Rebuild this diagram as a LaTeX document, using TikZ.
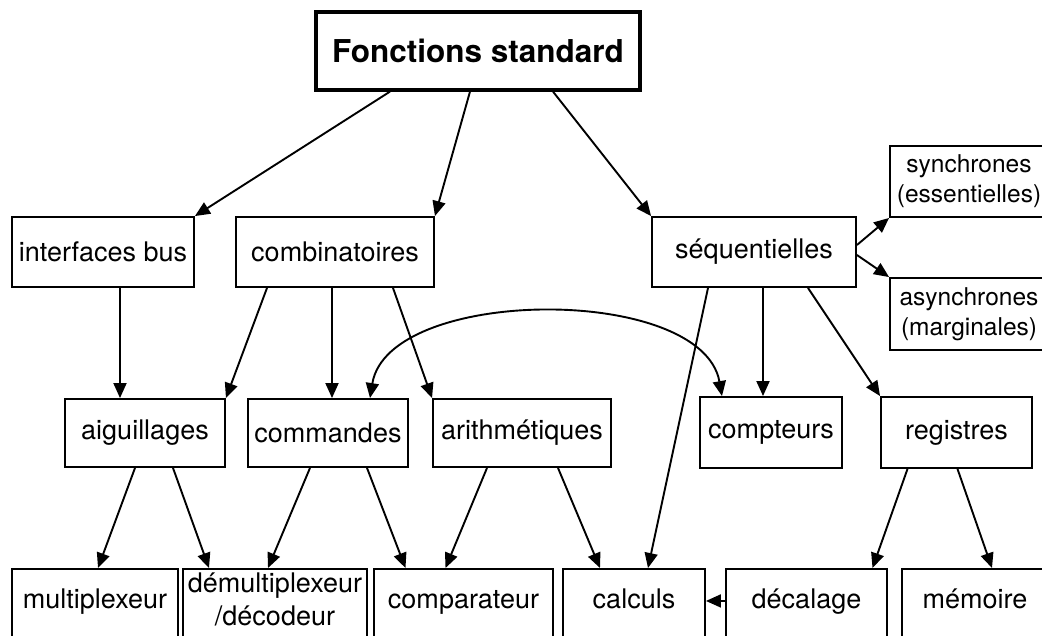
\documentclass[tikz,border=0pt]{standalone}
\usepackage{fontspec}
\setmainfont{TeX Gyre Heros}
\usetikzlibrary{arrows.meta}

\begin{document}
\begin{tikzpicture}[x=1pt,y=-1pt,
  box/.style={draw, line width=1.9pt, inner sep=0pt, font=\fontsize{27}{31}\selectfont},
  low/.style={box, anchor=north, text height=20pt, text depth=50pt, inner ysep=20pt},
  tip/.tip={Triangle[length=15pt,width=13pt]},
  arr/.style={line width=1.9pt, -tip}]
\useasboundingbox (0,0) rectangle (1042,635);
\clip (0,0) rectangle (1042,635);

\node[box, line width=3.2pt, font=\bfseries\fontsize{31.5}{36}\selectfont,
  minimum width=324pt, minimum height=78pt] (fs) at (478,51) {Fonctions standard};

\node[box, minimum width=182pt, minimum height=70pt] (ifb) at (103,252) {interfaces bus};
\node[box, minimum width=198pt, minimum height=70pt] (comb) at (335,252) {combinatoires};
\node[box, minimum width=204pt, minimum height=70pt] (seq) at (754,252) {séquentielles};
\node[box, font=\fontsize{24.5}{30}\selectfont, align=center,
  minimum width=158pt, minimum height=71pt] (sync) at (969,181.5) {synchrones\\(essentielles)};
\node[box, font=\fontsize{24.5}{30}\selectfont, align=center,
  minimum width=158pt, minimum height=72pt] (async) at (969,314) {asynchrones\\(marginales)};

\node[box, minimum width=160pt, minimum height=68pt] (aig) at (145,433) {aiguillages};
\node[box, minimum width=160pt, minimum height=68pt] (cmd) at (328,433) {commandes};
\node[box, minimum width=178pt, minimum height=68pt] (arith) at (522,433) {arithmétiques};
\node[box, minimum width=142pt, minimum height=71pt] (cpt) at (771,432.5) {compteurs};
\node[box, minimum width=151pt, minimum height=71pt] (reg) at (956.5,432.5) {registres};

\node[low, minimum width=166pt] (mux) at (95,568) {multiplexeur};
\node[low, minimum width=184pt, font=\fontsize{27}{33}\selectfont,
  text height=37pt, text depth=33pt] (demux) at (275,568)
  {\begin{tabular}[b]{@{}c@{}}démultiplexeur\\/décodeur\end{tabular}};
\node[low, minimum width=179pt] (comp) at (463.5,568) {comparateur};
\node[low, minimum width=142pt] (calc) at (634,568) {calculs};
\node[low, minimum width=161pt] (dec) at (806.5,568) {décalage};
\node[low, minimum width=146pt] (mem) at (975,568) {mémoire};

\draw[arr] ([xshift=-88pt]fs.south) -- (ifb.north east);
\draw[arr] ([xshift=-8pt]fs.south) -- (comb.north east);
\draw[arr] ([xshift=75pt]fs.south) -- (seq.north west);

\draw[arr] ([yshift=7pt]seq.east) -- (sync.south west);
\draw[arr] ([yshift=-3pt]seq.east) -- (async.north west);

\draw[arr] ([xshift=17pt]ifb.south) -- ([xshift=17pt]ifb.south |- aig.north);
\draw[arr] ([xshift=-68pt]comb.south) -- (aig.north east);
\draw[arr] ([xshift=-3pt]comb.south) -- ([xshift=-3pt]comb.south |- cmd.north);
\draw[arr] ([xshift=58pt]comb.south) -- (arith.north west);

\draw[arr] ([xshift=-46pt]seq.south) -- ([xshift=14pt]calc.north);
\draw[arr] ([xshift=9pt]seq.south) -- ([xshift=9pt]seq.south |- cpt.north);
\draw[arr] ([xshift=54pt]seq.south) -- (reg.north west);

\draw[arr, tip-tip] ([xshift=42pt]cmd.north) .. controls +(18,-112) and +(-20,-112) .. ([xshift=-49pt]cpt.north);

\draw[arr] ([xshift=-10pt]aig.south) -- ([xshift=3pt]mux.north);
\draw[arr] ([xshift=28pt]aig.south) -- ([xshift=-66pt]demux.north);
\draw[arr] ([xshift=-18pt]cmd.south) -- ([xshift=-7pt]demux.north);
\draw[arr] ([xshift=39pt]cmd.south) -- ([xshift=-58pt]comp.north);
\draw[arr] ([xshift=-35pt]arith.south) -- ([xshift=-18pt]comp.north);
\draw[arr] ([xshift=36pt]arith.south) -- ([xshift=-34pt]calc.north);
\draw[arr] ([xshift=-49pt]reg.south) -- ([xshift=66pt]dec.north);
\draw[arr] ([xshift=1pt]reg.south) -- ([xshift=17pt]mem.north);

\draw[arr] ([yshift=8pt]dec.base west) -- ([yshift=8pt]calc.base east);
\end{tikzpicture}
\end{document}
